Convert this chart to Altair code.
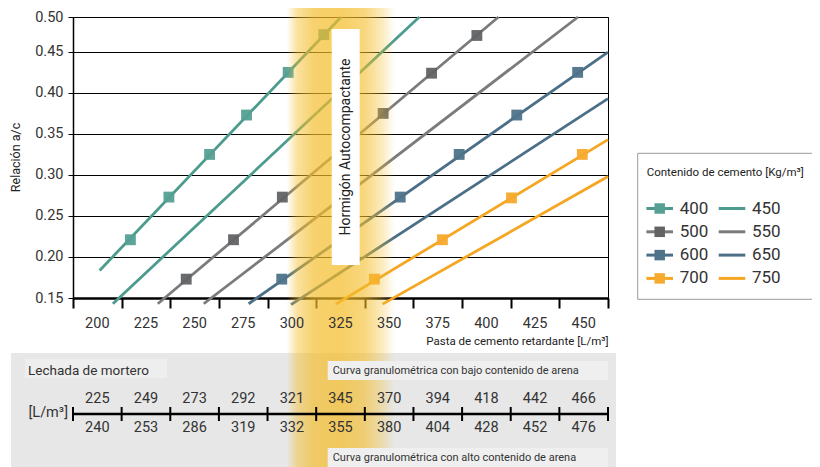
import altair as alt
import pandas as pd

# ---------------- data ----------------
cement = ["400", "450", "500", "550", "600", "650", "700", "750"]
line_colors = ["#4c9b8d", "#4c9b8d", "#7b7b7d", "#7b7b7d", "#4b6f87", "#4b6f87", "#f5a623", "#f5a623"]
square_colors = ["#55a093", "#55a093", "#626365", "#626365", "#4f738b", "#4f738b", "#f6aa2e", "#f6aa2e"]
has_square = [True, False, True, False, True, False, True, False]

line_x_start = [201.2, 208.0, 231.1, 254.7, 277.8, 299.6, 322.6, 346.6]
line_y_start = [0.1835, 0.143, 0.143, 0.143, 0.143, 0.142, 0.1425, 0.1425]
line_x_end = [325.3, 365.5, 406.2, 447.1, 462.5, 462.5, 462.5, 462.5]
line_y_end = [0.4925, 0.4925, 0.4925, 0.4925, 0.4498, 0.393, 0.343, 0.298]

sq_400_x = [217.0, 236.8, 257.7, 276.7, 298.1, 316.4]
sq_400_y = [0.221, 0.273, 0.325, 0.373, 0.425, 0.471]
sq_500_x = [245.7, 270.0, 295.1, 346.9, 371.8, 395.1]
sq_500_y = [0.173, 0.221, 0.273, 0.375, 0.424, 0.470]
sq_600_x = [294.8, 355.7, 386.0, 415.6, 446.9]
sq_600_y = [0.173, 0.273, 0.325, 0.373, 0.425]
sq_700_x = [342.4, 377.4, 412.9, 449.3]
sq_700_y = [0.173, 0.221, 0.272, 0.325]

x_labels = [200, 225, 250, 275, 300, 325, 350, 375, 400, 425, 450]
x_ticks = [187.5, 212.5, 237.5, 262.5, 287.5, 312.5, 337.5, 362.5, 387.5, 412.5, 437.5, 462.5]
y_ticks = [0.15, 0.20, 0.25, 0.30, 0.35, 0.40, 0.45, 0.4925]

table_top = [225, 249, 273, 292, 321, 345, 370, 394, 418, 442, 466]
table_bottom = [240, 253, 286, 319, 332, 355, 380, 404, 428, 452, 476]

band_start = [297.3]
band_end = [352.9]

# ---------------- tables ----------------
rows = []
for s, xs, ys, xe, ye in zip(cement, line_x_start, line_y_start, line_x_end, line_y_end):
    rows.append({"serie": s, "x": xs, "y": ys, "o": 0})
    rows.append({"serie": s, "x": xe, "y": ye, "o": 1})
lines_df = pd.DataFrame(rows)

sq_rows = []
for s, xs, ys in [("400", sq_400_x, sq_400_y), ("500", sq_500_x, sq_500_y),
                  ("600", sq_600_x, sq_600_y), ("700", sq_700_x, sq_700_y)]:
    for a, b in zip(xs, ys):
        sq_rows.append({"serie": s, "x": a, "y": b})
sq_df = pd.DataFrame(sq_rows)

W, H = 535, 281
FONT = "Roboto"
TXT = "#333333"

xscale = alt.Scale(domain=[187.5, 462.5], nice=False, zero=False)
yscale = alt.Scale(domain=[0.15, 0.4925], nice=False, zero=False)
cscale = alt.Scale(domain=cement, range=line_colors)
fscale = alt.Scale(domain=cement, range=square_colors)

one = alt.Data(values=[{"a": 1}])

# background of the bottom table
table_bg = alt.Chart(one).mark_rect(color="#e7e7e7").encode(
    x=alt.value(-62), x2=alt.value(543), y=alt.value(336), y2=alt.value(455))
lechada_box = alt.Chart(one).mark_rect(color="#eeeeee").encode(
    x=alt.value(-48), x2=alt.value(94), y=alt.value(342), y2=alt.value(361))

x_axis = alt.Axis(values=x_ticks, labels=False, grid=False, tickSize=10, tickWidth=2,
                  tickColor="black", domainColor="black", domainWidth=2.5,
                  title="Pasta de cemento retardante [L/m³]", titleFontSize=11.5,
                  titleFontWeight="normal", titleColor="#222", titleAlign="right",
                  titleX=W, titleY=43, titleBaseline="middle", titleFont=FONT)
y_axis = alt.Axis(values=y_ticks,
                  labelExpr="datum.value > 0.48 ? '0.50' : format(datum.value, '.2f')",
                  grid=True, gridColor="black", gridWidth=1, tickSize=5, tickColor="black",
                  domainColor="black", domainWidth=1.5, labelFontSize=14.5, labelColor=TXT,
                  labelPadding=5, labelFont=FONT,
                  title="Relación a/c", titleFontSize=12.5, titleFontWeight="normal",
                  titleColor="#222", titleX=-58, titleY=140, titleAngle=270,
                  titleAlign="center", titleBaseline="middle", titleFont=FONT)

lines = alt.Chart(lines_df).mark_line(strokeWidth=2.8).encode(
    x=alt.X("x:Q", scale=xscale, axis=x_axis),
    y=alt.Y("y:Q", scale=yscale, axis=y_axis),
    color=alt.Color("serie:N", scale=cscale, legend=None),
    detail="serie:N",
    order="o:Q",
)

squares = alt.Chart(sq_df).mark_square(size=118, opacity=0.95, strokeWidth=0).encode(
    x=alt.X("x:Q", scale=xscale),
    y=alt.Y("y:Q", scale=yscale),
    fill=alt.Fill("serie:N", scale=fscale, legend=None),
)

# ---------------- legend (drawn as marks, two columns) ----------------
leg_rows = []
for i, s in enumerate(cement):
    col, row = i % 2, i // 2
    x0 = 573.4 + col * 72.3
    yy = 191.5 + row * 23.3
    leg_rows.append({"serie": s, "x0": x0, "x1": x0 + 26.6, "xc": x0 + 13.3,
                     "xl": x0 + 33.3, "y": yy, "sq": has_square[i]})
leg_df = pd.DataFrame(leg_rows)

leg_box = alt.Chart(one).mark_rect(fill="white", stroke="#9a9a9a", strokeWidth=1).encode(
    x=alt.value(564.7), x2=alt.value(760), y=alt.value(136.3), y2=alt.value(282.3))
leg_title = alt.Chart(one).mark_text(text="Contenido de cemento [Kg/m³]", font=FONT,
                                     fontSize=11.5, color="#222", align="left",
                                     baseline="middle").encode(x=alt.value(573.7), y=alt.value(156))
leg_lines = alt.Chart(leg_df).mark_rule(strokeWidth=3).encode(
    x=alt.X("x0:Q", scale=None), x2="x1:Q", y=alt.Y("y:Q", scale=None),
    color=alt.Color("serie:N", scale=cscale, legend=None))
leg_sq = alt.Chart(leg_df).transform_filter("datum.sq").mark_square(size=110, opacity=1).encode(
    x=alt.X("xc:Q", scale=None), y=alt.Y("y:Q", scale=None),
    fill=alt.Fill("serie:N", scale=fscale, legend=None))
leg_lab = alt.Chart(leg_df).mark_text(font=FONT, fontSize=17, color=TXT, align="left",
                                      baseline="middle").encode(
    x=alt.X("xl:Q", scale=None), y=alt.Y("y:Q", scale=None), text="serie:N")

grad = alt.Gradient(
    gradient="linear", x1=0, x2=1, y1=0, y2=0,
    stops=[
        alt.GradientStop(color="rgba(244,188,40,0)", offset=0),
        alt.GradientStop(color="rgba(244,188,40,0.45)", offset=0.1),
        alt.GradientStop(color="rgba(244,188,40,0.68)", offset=0.25),
        alt.GradientStop(color="rgba(244,188,40,0.72)", offset=0.5),
        alt.GradientStop(color="rgba(244,188,40,0.6)", offset=0.72),
        alt.GradientStop(color="rgba(244,188,40,0.3)", offset=0.88),
        alt.GradientStop(color="rgba(244,188,40,0)", offset=1),
    ],
)
band = alt.Chart(pd.DataFrame({"x": band_start, "x2": band_end})).mark_rect(color=grad).encode(
    x=alt.X("x:Q", scale=xscale), x2="x2:Q", y=alt.value(-17), y2=alt.value(455))

sc_box = alt.Chart(one).mark_rect(color="white").encode(
    x=alt.value(258.7), x2=alt.value(286.7), y=alt.value(12), y2=alt.value(248))
sc_text = alt.Chart(one).mark_text(text="Hormigón Autocompactante", angle=270, font=FONT,
                                   fontSize=14, color="#222", baseline="middle",
                                   align="center").encode(x=alt.value(273), y=alt.value(130))

xlab = alt.Chart(pd.DataFrame({"v": x_labels})).mark_text(
    font=FONT, fontSize=14.5, color=TXT, baseline="middle").encode(
    x=alt.X("v:Q", scale=xscale), y=alt.value(307), text="v:Q")

nline = alt.Chart(pd.DataFrame({"a": [x_ticks[0]], "b": [x_ticks[-1]]})).mark_rule(
    color="black", strokeWidth=2.5).encode(
    x=alt.X("a:Q", scale=xscale), x2="b:Q", y=alt.value(397))
nticks = alt.Chart(pd.DataFrame({"t": x_ticks})).mark_rule(color="black", strokeWidth=2).encode(
    x=alt.X("t:Q", scale=xscale), y=alt.value(390), y2=alt.value(404))
tlab_top = alt.Chart(pd.DataFrame({"v": x_labels, "t": table_top})).mark_text(
    font=FONT, fontSize=14.5, color=TXT, baseline="middle").encode(
    x=alt.X("v:Q", scale=xscale), y=alt.value(382), text="t:Q")
tlab_bot = alt.Chart(pd.DataFrame({"v": x_labels, "t": table_bottom})).mark_text(
    font=FONT, fontSize=14.5, color=TXT, baseline="middle").encode(
    x=alt.X("v:Q", scale=xscale), y=alt.value(411), text="t:Q")
unit = alt.Chart(one).mark_text(text="[L/m³]", font=FONT, fontSize=14.5, color=TXT,
                                align="right", baseline="middle").encode(
    x=alt.value(-5), y=alt.value(396))
lechada = alt.Chart(one).mark_text(text="Lechada de mortero", font=FONT, fontSize=13.5,
                                   color=TXT, align="left", baseline="middle").encode(
    x=alt.value(-45), y=alt.value(354))

curva_box1 = alt.Chart(one).mark_rect(color="#efefef").encode(
    x=alt.value(254.7), x2=alt.value(535), y=alt.value(344), y2=alt.value(363))
curva_box2 = alt.Chart(one).mark_rect(color="#efefef").encode(
    x=alt.value(254.7), x2=alt.value(535), y=alt.value(431), y2=alt.value(455))
curva_t1 = alt.Chart(one).mark_text(text="Curva granulométrica con bajo contenido de arena",
                                    font=FONT, fontSize=11, color=TXT, align="left",
                                    baseline="middle").encode(x=alt.value(259.7), y=alt.value(354))
curva_t2 = alt.Chart(one).mark_text(text="Curva granulométrica con alto contenido de arena",
                                    font=FONT, fontSize=11, color=TXT, align="left",
                                    baseline="middle").encode(x=alt.value(259.7), y=alt.value(441))

chart = alt.layer(
    table_bg, lechada_box, lines, squares, band, sc_box, sc_text, xlab,
    nline, nticks, tlab_top, tlab_bot, unit, lechada, curva_box1, curva_box2, curva_t1, curva_t2,
    leg_box, leg_title, leg_lines, leg_sq, leg_lab,
).properties(
    width=W, height=H,
    autosize=alt.AutoSizeParams(type="none"),
    padding={"left": 65, "top": 9, "right": 204, "bottom": 169},
).configure(font=FONT).configure_view(stroke="black", strokeWidth=1)

chart.save("out.html", embed_options={"renderer": "svg", "actions": False})
